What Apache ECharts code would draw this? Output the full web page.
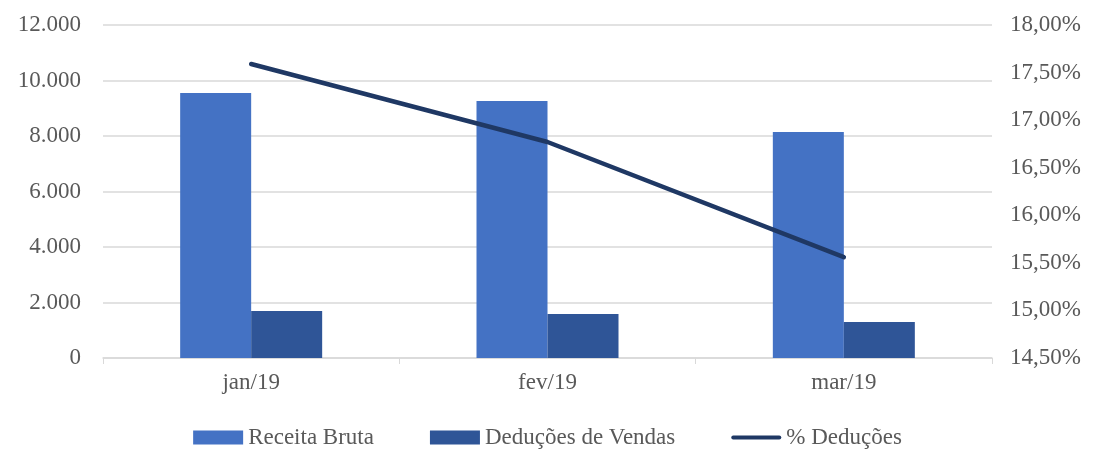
<!DOCTYPE html>
<html>
<head>
<meta charset="utf-8">
<script src="https://cdn.jsdelivr.net/npm/echarts@6/dist/echarts.min.js"></script>
<style>
  html, body { margin: 0; padding: 0; background: #fff; }
  #chart { width: 1095px; height: 455px; }
</style>
</head>
<body>
<div id="chart"></div>
<script>
var categories = ['jan/19', 'fev/19', 'mar/19'];
var receitaBruta = [9550, 9260, 8140];
var deducoesVendas = [1690, 1590, 1300];
var pctDeducoes = [17.59, 16.77, 15.56];

var chart = echarts.init(document.getElementById('chart'));
var font = 'Liberation Serif';
var gray = '#595959';

function fmtThousands(v) {
  return String(v).replace(/\B(?=(\d{3})+(?!\d))/g, '.');
}

var option = {
  animation: false,
  textStyle: { fontFamily: font },
  grid: { left: 103, right: 103, top: 25, height: 333 },
  legend: {
    bottom: 1,
    itemWidth: 50,
    itemHeight: 14,
    itemGap: 56,
    symbolKeepAspect: true,
    textStyle: { fontFamily: font, fontSize: 23, color: gray },
    data: [
      { name: 'Receita Bruta', icon: 'rect' },
      { name: 'Deduções de Vendas', icon: 'rect' },
      { name: '% Deduções', icon: 'path://M2,0 L48,0 A2,2 0 0 1 48,4 L2,4 A2,2 0 0 1 2,0 Z' }
    ]
  },
  xAxis: {
    type: 'category',
    data: categories,
    axisLine: { lineStyle: { color: '#d9d9d9', width: 1.5 } },
    axisTick: { show: true, alignWithLabel: false, length: 6, lineStyle: { color: '#d9d9d9' } },
    axisLabel: { fontFamily: font, fontSize: 23, color: gray, margin: 13 }
  },
  yAxis: [
    {
      type: 'value', min: 0, max: 12000, interval: 2000,
      axisLine: { show: false }, axisTick: { show: false },
      splitLine: { lineStyle: { color: '#d9d9d9', width: 1.5 } },
      axisLabel: { fontFamily: font, fontSize: 23, color: gray, margin: 22, formatter: fmtThousands }
    },
    {
      type: 'value', min: 14.5, max: 18, interval: 0.5,
      axisLine: { show: false }, axisTick: { show: false },
      splitLine: { show: false },
      axisLabel: {
        fontFamily: font, fontSize: 23, color: gray, margin: 18,
        formatter: function (v) { return v.toFixed(2).replace('.', ',') + '%'; }
      }
    }
  ],
  series: [
    {
      name: 'Receita Bruta', type: 'bar', data: receitaBruta,
      barWidth: 71, barGap: '0%',
      itemStyle: { color: '#4472c4' }
    },
    {
      name: 'Deduções de Vendas', type: 'bar', data: deducoesVendas,
      barWidth: 71,
      itemStyle: { color: '#2f5597' }
    },
    {
      name: '% Deduções', type: 'line', yAxisIndex: 1, data: pctDeducoes,
      symbol: 'none', z: 5,
      lineStyle: { color: '#1f3864', width: 4.5, cap: 'round' },
      itemStyle: { color: '#1f3864' }
    }
  ]
};

chart.setOption(option);
</script>
</body>
</html>
